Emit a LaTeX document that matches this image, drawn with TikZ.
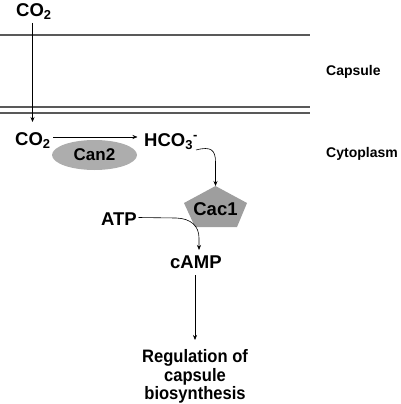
\documentclass[tikz,border=0pt]{standalone}
\usepackage{fontspec}
\setmainfont{Liberation Sans}
\usetikzlibrary{arrows.meta,shapes.geometric}
\newcommand{\regtext}[1]{\scalebox{0.92}[1]{#1}}
\begin{document}
\begin{tikzpicture}[x=1pt,y=-1pt,
  lbl/.style={font=\bfseries\fontsize{18.5}{20}\selectfont, inner sep=1pt},
  reg/.style={font=\bfseries\fontsize{18}{20}\selectfont, inner sep=0pt, anchor=base},
  side/.style={font=\bfseries\fontsize{14}{16}\selectfont, inner sep=0pt, anchor=base west},
  memb/.style={draw=black!65, line width=1.1pt},
  arr/.style={-{Stealth[length=5pt,width=4pt]}, line width=0.6pt}]
\useasboundingbox (0,0) rectangle (400,404);
% membranes
\draw[memb] (0,35) -- (310,35);
\draw[memb] (0,107) -- (310,107);
\draw[memb] (0,113) -- (310,113);
% enzyme shapes
\node[ellipse, fill=black!32, minimum width=85pt, minimum height=30pt, inner sep=0pt] (can2) at (94.5,155) {};
\node[font=\bfseries\fontsize{17}{20}\selectfont, inner sep=1pt] at (can2.center) {Can2};
\fill[black!38] (215.5,186) -- (247,203) -- (237,227) -- (195,227) -- (184,203) -- cycle;
\coordinate (cac1top) at (215.5,186);
\node[lbl] (cac1) at (215.5,209) {Cac1};
% labels
\node[lbl, anchor=base west] (co2top) at (15,16.7) {CO\textsubscript{2}};
\node[lbl, anchor=base west] (co2) at (14,145) {CO\textsubscript{2}};
\node[lbl, anchor=base west] (hco3) at (143,146) {HCO\textsubscript{3}\textsuperscript{-}};
\node[lbl, anchor=base west] (atp) at (100,225.7) {ATP};
\node[lbl, anchor=base west] (camp) at (169,268.5) {cAMP};
\node[reg] (reg1) at (195,362) {\regtext{Regulation of}};
\node[reg] (reg2) at (195,381) {\regtext{capsule}};
\node[reg] (reg3) at (195,399.5) {\regtext{biosynthesis}};
\node[side] (caps) at (326,75) {Capsule};
\node[side] (cyto) at (326,157) {Cytoplasm};
% connectors
\coordinate (c1) at (32.5,23);
\coordinate (c2) at (32.5,122);
\draw[arr] (c1) -- (c2);
\coordinate (r1) at (53,137);
\coordinate (r2) at (137.5,137);
\draw[arr] (r1) -- (r2);
\coordinate (h1) at (196,150);
\draw[arr] (h1) .. controls (211,146) and (215.5,150) .. (215.5,162) -- (cac1top);
\coordinate (a1) at (138.5,217.5);
\coordinate (a2) at (199,250);
\draw[arr] (a1) -- (176,218) .. controls (191,218.5) and (199,226) .. (199,238) -- (a2);
\coordinate (m1) at (195,275);
\coordinate (m2) at (195,340);
\draw[arr] (m1) -- (m2);
\end{tikzpicture}
\end{document}
